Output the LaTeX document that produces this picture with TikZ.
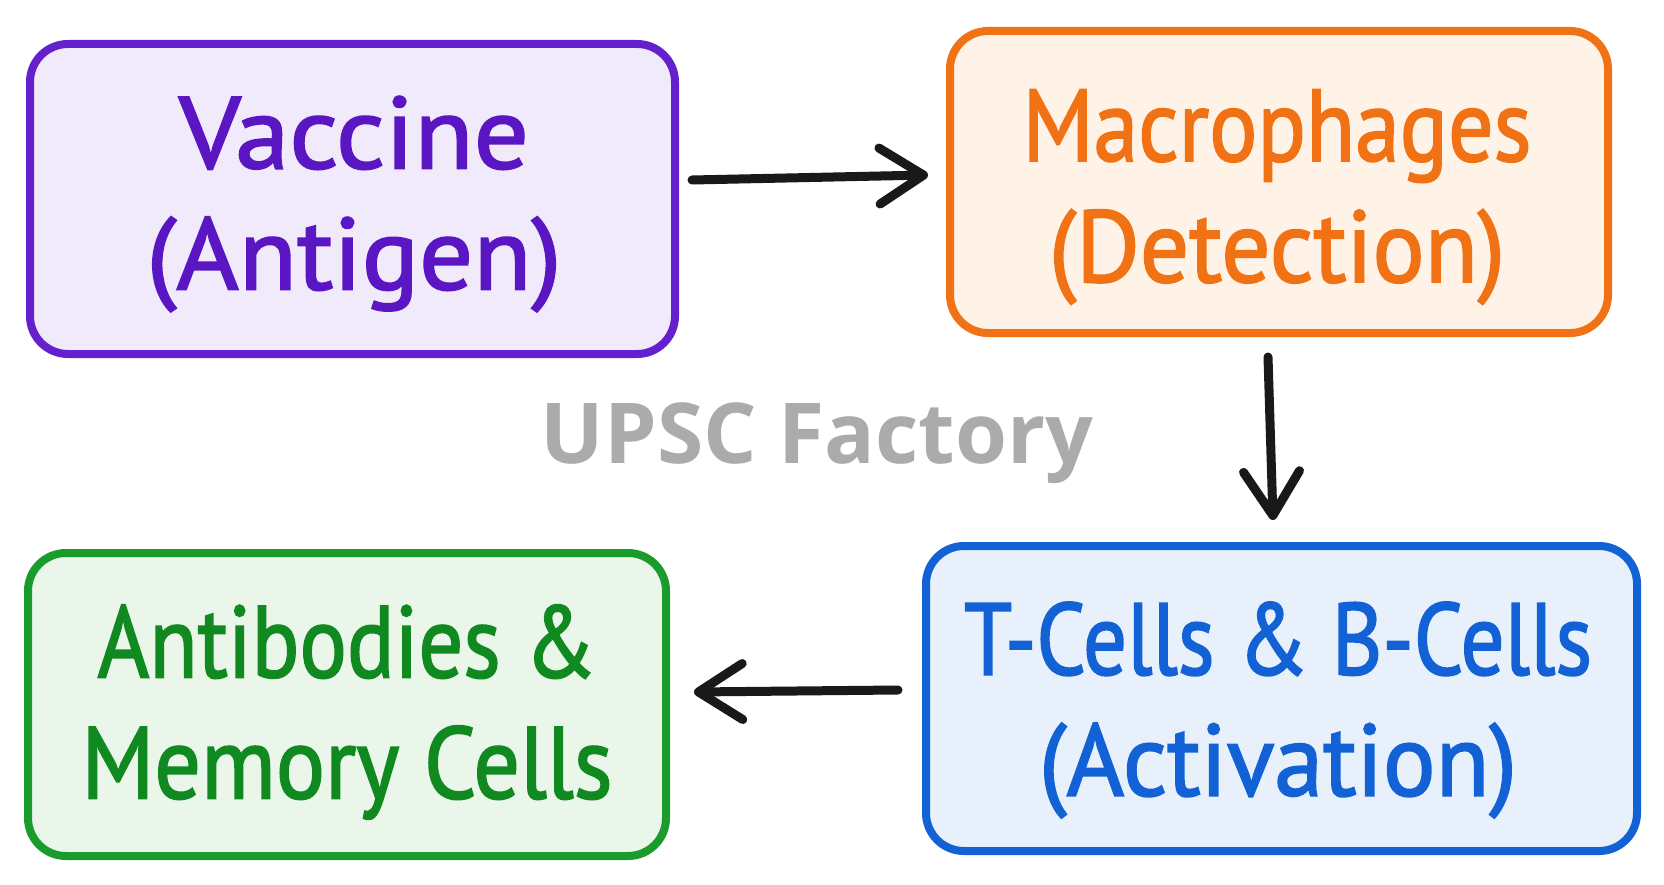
\documentclass[tikz,border=0pt]{standalone}
\usepackage{fontspec}
\usepackage{graphicx}
\setmainfont{PT Sans}
\newfontfamily\hand[FakeBold=1.8]{PT Sans}
\newfontfamily\wm{Open Sans}
\usetikzlibrary{arrows.meta}
\definecolor{vacD}{HTML}{6420CC}
\definecolor{vacT}{HTML}{5A16C2}
\definecolor{vacF}{HTML}{F1EAFB}
\definecolor{macD}{HTML}{F07214}
\definecolor{macF}{HTML}{FEF3E6}
\definecolor{tbD}{HTML}{1262D6}
\definecolor{tbF}{HTML}{E8F0FC}
\definecolor{abD}{HTML}{1A9C2C}
\definecolor{abT}{HTML}{108A20}
\definecolor{abF}{HTML}{EAF6EA}
\definecolor{wmC}{HTML}{ABABAB}
\newcommand\fitline[2]{\resizebox{#1}{\height}{#2}}
\tikzset{
  box/.style={draw, rectangle, rounded corners=38pt, line width=8pt, align=center, inner sep=0pt},
  lbl/.style={font=\hand\fontsize{102}{121}\selectfont, align=center},
  arr/.style={line width=9pt, line cap=round, line join=round, black!90, -{Straight Barb[length=44pt,width=56pt,line cap=round,line join=round]}}
}
\begin{document}
\begin{tikzpicture}[x=1pt,y=-1pt]
\useasboundingbox[fill=white] (0,0) rectangle (1664,885);
\node[box, draw=vacD, fill=vacF, minimum width=645pt, minimum height=310pt] (vac) at (352.5,199) {};
\node[lbl, text=vacT] (vact) at (354,204) {\fitline{350pt}{Vaccine}\\\fitline{415pt}{(Antigen)}};
\node[box, draw=macD, fill=macF, minimum width=658pt, minimum height=302pt] (mac) at (1279,182) {};
\node[lbl, text=macD] (mact) at (1277,197) {\fitline{509pt}{Macrophages}\\\fitline{456pt}{(Detection)}};
\node[box, draw=tbD, fill=tbF, minimum width=711pt, minimum height=305pt] (tb) at (1281.5,698.5) {};
\node[lbl, text=tbD] (tbt) at (1278,710) {\fitline{628pt}{T-Cells \& B-Cells}\\\fitline{478pt}{(Activation)}};
\node[box, draw=abD, fill=abF, minimum width=638pt, minimum height=303pt] (ab) at (347,704.5) {};
\node[lbl, text=abT] (abt) at (347,712) {\fitline{499pt}{Antibodies \&}\\\fitline{531pt}{Memory Cells}};
\node[font=\wm\bfseries\fontsize{84}{90}\selectfont, text=wmC] (wm) at (817,443) {UPSC Factory};
\draw[arr] ([xshift=13pt,yshift=19pt]vac.east) -- ([xshift=-18pt,yshift=7pt]mac.west);
\draw[arr] ([xshift=-11pt,yshift=-20pt]mac.south) -- ([xshift=-8.5pt,yshift=22pt]tb.north);
\draw[arr] ([xshift=-24pt,yshift=8.5pt]tb.west) -- ([xshift=24pt,yshift=12.5pt]ab.east);
\end{tikzpicture}
\end{document}
